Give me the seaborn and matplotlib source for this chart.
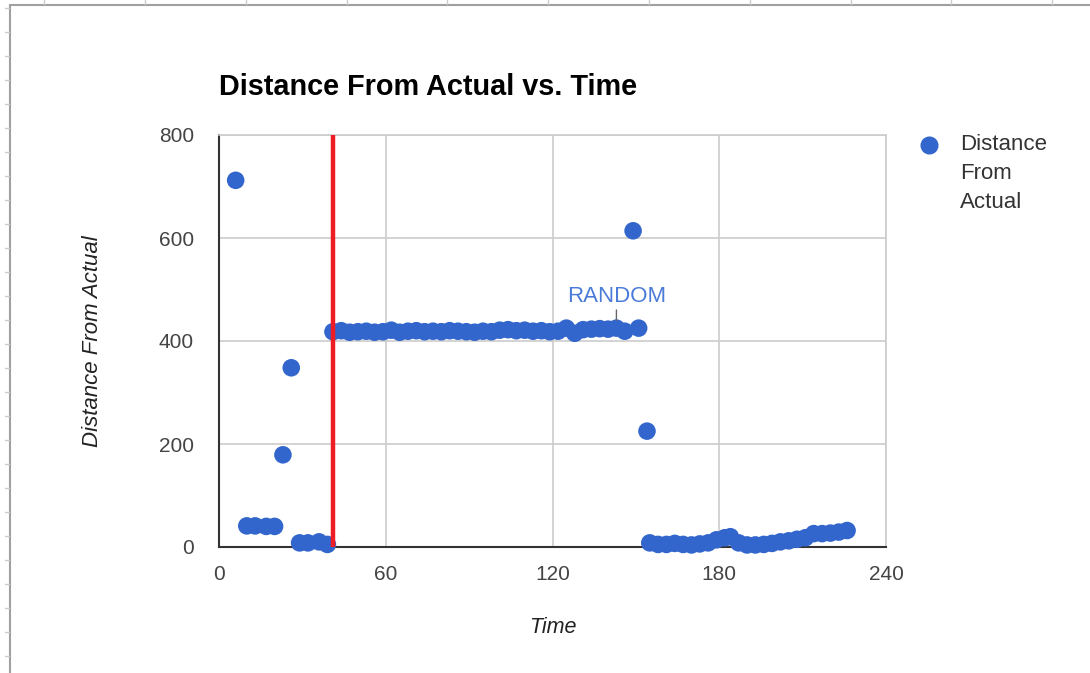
import matplotlib
matplotlib.use("Agg")
import matplotlib.pyplot as plt
from matplotlib.lines import Line2D
import seaborn as sns
import pandas as pd

# ---- data ----
time = [6, 10, 13, 17, 20, 23, 26, 29, 32, 36, 39,
        41, 44, 47, 50, 53, 56, 59, 62, 65, 68, 71, 74, 77, 80, 83, 86, 89, 92,
        95, 98, 101, 104, 107, 110, 113, 116, 119, 122, 125, 128, 131, 134, 137,
        140, 143, 146, 149, 151, 154,
        155, 158, 161, 164, 167, 170, 173, 176, 179, 182, 184, 187, 190, 193,
        196, 199, 202, 205, 208, 211, 214, 217, 220, 223, 226]
distance = [712, 41, 41, 40, 40, 179, 348, 8, 8, 10, 5,
            418, 420, 417, 418, 419, 417, 418, 421, 417, 419, 420, 418, 419, 418,
            420, 419, 418, 417, 419, 418, 421, 422, 420, 421, 419, 420, 418, 419,
            425, 415, 422, 423, 424, 423, 425, 419, 614, 425, 225,
            8, 5, 5, 7, 5, 4, 6, 8, 14, 18, 20, 8, 4, 4,
            5, 7, 10, 12, 15, 18, 26, 26, 27, 29, 32]
random_time = 41
annot_label = "RANDOM"
annot_x = 143
x_ticks = [0, 60, 120, 180, 240]
y_ticks = [0, 200, 400, 600, 800]
series_name = "Distance From Actual"
legend_lines = ["Distance", "From", "Actual"]

df = pd.DataFrame({"Time": time, series_name: distance})

sns.set_theme(style="white")
plt.rcParams["font.family"] = ["Liberation Sans", "DejaVu Sans"]

BLUE = "#3366CC"
fig = plt.figure(figsize=(10.9, 6.73), dpi=100)
ax = fig.add_axes([219/1090, 1-547/673, (886-219)/1090, (547-135)/673])

sns.scatterplot(data=df, x="Time", y=series_name, ax=ax, color=BLUE,
                s=160, edgecolor="none", linewidth=0, zorder=3, legend=False,
                clip_on=False)

ax.axvline(random_time, color="#EE1C25", lw=3.2, zorder=4)

ax.set_xlim(0, 240)
ax.set_ylim(0, 800)
ax.set_xticks(x_ticks)
ax.set_yticks(y_ticks)
ax.grid(True, color="#CCCCCC", lw=1.2)
ax.set_axisbelow(True)
for s in ["top", "right"]:
    ax.spines[s].set_color("#CCCCCC")
    ax.spines[s].set_linewidth(1.2)
for s in ["left", "bottom"]:
    ax.spines[s].set_color("#333333")
    ax.spines[s].set_linewidth(1.5)
ax.tick_params(axis="both", length=0, labelsize=15, colors="#444444")
ax.tick_params(axis="y", pad=18)
ax.tick_params(axis="x", pad=13)

ax.set_xlabel("Time", fontsize=15.5, style="italic", color="#222222", labelpad=24)
ax.set_ylabel(series_name, fontsize=16, style="italic", color="#222222", labelpad=40)

fig.text(219/1090, 1-87/673, "Distance From Actual vs. Time", fontsize=20.8,
         fontweight="bold", color="#000000", va="center", ha="left")

ax.annotate(annot_label, xy=(annot_x, 440), xytext=(annot_x, 487),
            textcoords="data", ha="center", va="center", fontsize=16,
            color="#4A7BD8",
            arrowprops=dict(arrowstyle="-", color="#666666", lw=1,
                            shrinkA=0, shrinkB=0), zorder=5)

# legend
fig.add_artist(Line2D([929/1090], [1-145/673], marker="o", color=BLUE,
                      markersize=12, linestyle="none", transform=fig.transFigure))
for i, line in enumerate(legend_lines):
    fig.text(960/1090, 1-(145 + 28.5*i)/673, line, fontsize=16,
             color="#333333", va="center", ha="left")

# spreadsheet frame decoration
fig.add_artist(Line2D([10/1090, 1], [1-5/673, 1-5/673], color="#A0A0A0", lw=1.5,
                      transform=fig.transFigure))
fig.add_artist(Line2D([10/1090, 10/1090], [0, 1-5/673], color="#A0A0A0", lw=1.5,
                      transform=fig.transFigure))
for px in [44, 145, 246, 347, 447, 548, 649, 750, 851, 951, 1052]:
    fig.add_artist(Line2D([px/1090, px/1090], [1, 1-4/673], color="#CCCCCC", lw=1,
                          transform=fig.transFigure))
for py in range(8, 673, 24):
    fig.add_artist(Line2D([5/1090, 9/1090], [1-py/673, 1-py/673], color="#CCCCCC",
                          lw=1, transform=fig.transFigure))

fig.savefig("out.png", dpi=100, facecolor="white")
